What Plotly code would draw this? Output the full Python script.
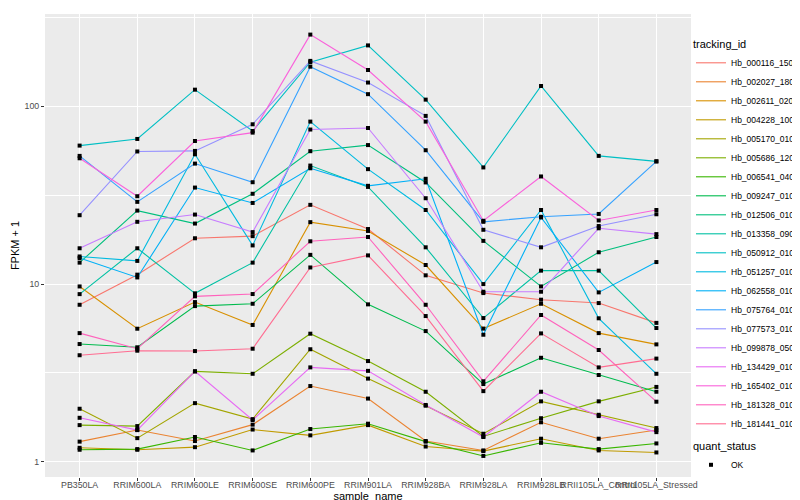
import plotly.graph_objects as go

samples = ["PB350LA", "RRIM600LA", "RRIM600LE", "RRIM600SE", "RRIM600PE",
           "RRIM901LA", "RRIM928BA", "RRIM928LA", "RRIM928LB",
           "RRII105LA_Control", "RRII105LA_Stressed"]

tracking_ids = ["Hb_000116_150", "Hb_002027_180", "Hb_002611_020", "Hb_004228_100",
                "Hb_005170_010", "Hb_005686_120", "Hb_006541_040", "Hb_009247_010",
                "Hb_012506_010", "Hb_013358_090", "Hb_050912_010", "Hb_051257_010",
                "Hb_062558_010", "Hb_075764_010", "Hb_077573_010", "Hb_099878_050",
                "Hb_134429_010", "Hb_165402_010", "Hb_181328_010", "Hb_181441_010"]

# FPKM + 1 values per tracking_id, in the order of `samples`
hb_000116_150 = [7.65, 11.3, 18.1, 18.6, 27.9, 20.4, 11.2, 8.9, 8.17, 7.82, 6.05]
hb_002027_180 = [1.30, 1.51, 1.31, 1.62, 2.67, 2.27, 1.31, 1.16, 1.67, 1.35, 1.51]
hb_002611_020 = [9.70, 5.61, 7.92, 5.89, 22.3, 19.9, 12.8, 5.62, 7.75, 5.30, 4.58]
hb_004228_100 = [1.20, 1.17, 1.21, 1.52, 1.41, 1.61, 1.22, 1.15, 1.35, 1.16, 1.13]
hb_005170_010 = [1.99, 1.36, 2.14, 1.74, 4.30, 2.94, 2.07, 1.44, 2.19, 1.84, 1.55]
hb_005686_120 = [1.61, 1.59, 3.23, 3.13, 5.26, 3.69, 2.48, 1.39, 1.76, 2.19, 2.64]
hb_006541_040 = [1.17, 1.18, 1.38, 1.16, 1.53, 1.64, 1.30, 1.08, 1.28, 1.18, 1.27]
hb_009247_010 = [4.60, 4.41, 7.52, 7.75, 14.6, 7.69, 5.44, 2.74, 3.85, 3.08, 2.48]
hb_012506_010 = [13.2, 25.9, 21.9, 32.2, 55.9, 60.5, 37.3, 17.5, 9.70, 15.1, 18.4]
hb_013358_090 = [8.78, 15.9, 8.87, 13.2, 46.4, 35.2, 16.1, 6.44, 11.9, 11.9, 5.66]
hb_050912_010 = [60.1, 65.5, 124.0, 72.6, 177.0, 220.0, 109.0, 45.3, 130.0, 52.6, 49.0]
hb_051257_010 = [14.3, 13.5, 53.7, 16.5, 82.0, 44.3, 26.1, 10.0, 26.1, 6.42, 3.13]
hb_062558_010 = [14.0, 10.9, 34.9, 28.6, 44.8, 35.7, 39.1, 5.19, 23.7, 8.98, 13.3]
hb_075764_010 = [52.6, 29.0, 47.6, 37.4, 167.0, 117.0, 56.6, 22.4, 23.9, 24.8, 49.0]
hb_077573_010 = [24.4, 55.7, 56.1, 79.2, 180.0, 136.0, 88.3, 20.2, 16.1, 21.2, 24.7]
hb_099878_050 = [15.9, 22.4, 24.6, 19.6, 74.0, 75.5, 30.4, 9.06, 9.06, 20.6, 19.1]
hb_134429_010 = [1.77, 1.51, 3.23, 1.72, 3.40, 3.25, 2.09, 1.38, 2.48, 1.81, 1.47]
hb_165402_010 = [51.0, 31.2, 63.8, 71.1, 253.0, 160.0, 82.0, 22.7, 40.3, 22.8, 26.1]
hb_181328_010 = [5.30, 4.33, 8.53, 8.79, 17.4, 18.4, 7.65, 2.84, 6.70, 4.26, 2.18]
hb_181441_010 = [3.98, 4.22, 4.20, 4.33, 12.4, 14.5, 6.61, 2.50, 5.28, 3.40, 3.81]

series = [hb_000116_150, hb_002027_180, hb_002611_020, hb_004228_100, hb_005170_010,
          hb_005686_120, hb_006541_040, hb_009247_010, hb_012506_010, hb_013358_090,
          hb_050912_010, hb_051257_010, hb_062558_010, hb_075764_010, hb_077573_010,
          hb_099878_050, hb_134429_010, hb_165402_010, hb_181328_010, hb_181441_010]

quant_status = "OK"

colors = ["#F8766D", "#EA8331", "#D89000", "#C09B00", "#A3A500", "#7CAE00", "#39B600",
          "#00BB4E", "#00BF7D", "#00C1A3", "#00BFC4", "#00BAE0", "#00B0F6", "#35A2FF",
          "#9590FF", "#C77CFF", "#E76BF3", "#FA62DB", "#FF62BC", "#FF6C91"]

FONT = "Liberation Sans, Arial, Helvetica, sans-serif"

fig = go.Figure()
for tid, vals, col in zip(tracking_ids, series, colors):
    fig.add_trace(go.Scatter(
        x=samples, y=vals, mode="lines", name=tid,
        line=dict(color=col, width=1.1), legend="legend",
    ))

all_x = [s for vals in series for s in samples]
all_y = [v for vals in series for v in vals]
fig.add_trace(go.Scatter(
    x=all_x, y=all_y, mode="markers", name=quant_status,
    marker=dict(symbol="square", size=4, color="black"), legend="legend2",
))

L, R, T, B = 37, 683, 6, 469
W, H = R - L, B - T

fig.update_layout(
    width=800, height=500,
    margin=dict(l=L, r=800 - R, t=T, b=500 - B, autoexpand=False),
    paper_bgcolor="white", plot_bgcolor="#EBEBEB",
    font=dict(family=FONT, size=9, color="#4D4D4D"),
    showlegend=True,
    xaxis=dict(
        type="category", categoryorder="array", categoryarray=samples,
        range=[-0.6, len(samples) - 0.4],
        showgrid=True, gridcolor="white", gridwidth=1.1,
        zeroline=False, showline=False,
        ticks="outside", ticklen=3, tickwidth=1, tickcolor="#333333",
        tickangle=0, ticklabelstandoff=-4,
        tickfont=dict(family=FONT, size=8.8, color="#4D4D4D"),
        title=dict(text="sample_name", font=dict(family=FONT, size=11, color="black"), standoff=0),
        automargin=False,
    ),
    yaxis=dict(
        type="log", range=[-0.085, 2.519],
        tickmode="array", tickvals=[1, 10, 100], ticktext=["1", "10", "100"],
        showgrid=True, gridcolor="white", gridwidth=1.1,
        minor=dict(tickmode="array", tickvals=[10 ** 0.5, 10 ** 1.5, 10 ** 2.5],
                   showgrid=True, gridcolor="white", gridwidth=0.55, ticks=""),
        zeroline=False, showline=False,
        ticks="outside", ticklen=3, tickwidth=1, tickcolor="#333333",
        tickfont=dict(family=FONT, size=8.8, color="#4D4D4D"),
        title=dict(text="FPKM + 1", font=dict(family=FONT, size=11, color="black"), standoff=2),
        automargin=False,
    ),
    legend=dict(
        title=dict(text="tracking_id", font=dict(family=FONT, size=11, color="black")),
        x=1.0, y=(B - 26) / H, xanchor="left", yanchor="top",
        font=dict(family=FONT, size=8.5, color="black"),
        bgcolor="rgba(0,0,0,0)", borderwidth=0, tracegroupgap=0,
    ),
    legend2=dict(
        title=dict(text="quant_status", font=dict(family=FONT, size=11, color="black")),
        x=1.0, y=(B - 428) / H, xanchor="left", yanchor="top",
        font=dict(family=FONT, size=8.5, color="black"),
        bgcolor="rgba(0,0,0,0)", borderwidth=0,
    ),
)

fig.write_html("out.html")
